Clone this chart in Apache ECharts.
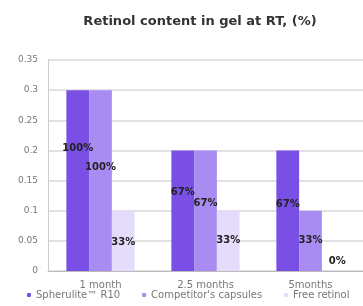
<!DOCTYPE html>
<html>
<head>
<meta charset="utf-8">
<script src="https://cdn.jsdelivr.net/npm/echarts@6/dist/echarts.min.js"></script>
<style>
  html, body { margin: 0; padding: 0; background: #fff; }
  #main { width: 363px; height: 306px; }
</style>
</head>
<body>
<div id="main"></div>
<script>
const categories = ['1 month', '2.5 months', '5months']
const seriesNames = ['Spherulite\u2122 R10', "Competitor's capsules", 'Free retinol']
const spherulite = [0.3, 0.2, 0.2]
const competitor = [0.3, 0.2, 0.1]
const freeRetinol = [0.1, 0.1, 0]
const percentLabels = [
  ['100%', '67%', '67%'],
  ['100%', '67%', '33%'],
  ['33%', '33%', '0%'],
]

const colors = ['#7a4fe6', '#a98cf2', '#e4dcfa']
// label nudges (px), to sit where the original put them
const labelShift = [
  [-32, -18, -6],
  [-13, -7, 0],
  [2, 0, 0],
]

const chart = echarts.init(document.getElementById('main'), null, { renderer: 'canvas' })

const makeSeries = (values, idx) => ({
  name: seriesNames[idx],
  type: 'bar',
  barGap: 0,
  barCategoryGap: '35%',
  itemStyle: { color: colors[idx] },
  data: values.map((v, i) => ({
    value: v,
    label: v === 0 ? { position: 'top', offset: [4, 0] } : { offset: [0, labelShift[idx][i]] }
  })),
  label: {
    show: true,
    position: 'inside',
    color: '#222',
    fontSize: 10,
    fontWeight: 'bold',
    fontFamily: 'DejaVu Sans',
    formatter: p => percentLabels[idx][p.dataIndex]
  }
})

const option = {
  animation: false,
  title: {
    text: 'Retinol content in gel at RT, (%)',
    left: 195,
    textAlign: 'center',
    top: 10,
    textStyle: { fontSize: 13, fontWeight: 'bold', color: '#333', fontFamily: 'DejaVu Sans' }
  },
  grid: { left: 48, top: 60, width: 321, height: 211 },
  legend: {
    bottom: 1,
    left: 22,
    itemWidth: 4,
    itemHeight: 4,
    itemGap: 22,
    textStyle: { fontSize: 10, color: '#777', fontFamily: 'DejaVu Sans' },
    data: seriesNames
  },
  xAxis: {
    type: 'category',
    data: categories,
    axisLine: { lineStyle: { color: '#bbb' } },
    axisTick: { show: false },
    axisLabel: { fontSize: 10, color: '#777', margin: 9, fontFamily: 'DejaVu Sans' }
  },
  yAxis: {
    type: 'value',
    min: 0,
    max: 0.35,
    interval: 0.05,
    axisLine: { show: true, lineStyle: { color: '#ccc' } },
    axisTick: { show: false },
    splitLine: { lineStyle: { color: '#d8d8d8', width: 1.5 } },
    axisLabel: {
      fontSize: 9,
      color: '#777',
      margin: 10,
      fontFamily: 'DejaVu Sans',
      formatter: v => String(Math.round(v * 100) / 100)
    }
  },
  series: [
    makeSeries(spherulite, 0),
    makeSeries(competitor, 1),
    makeSeries(freeRetinol, 2)
  ]
}

chart.setOption(option)
</script>
</body>
</html>
